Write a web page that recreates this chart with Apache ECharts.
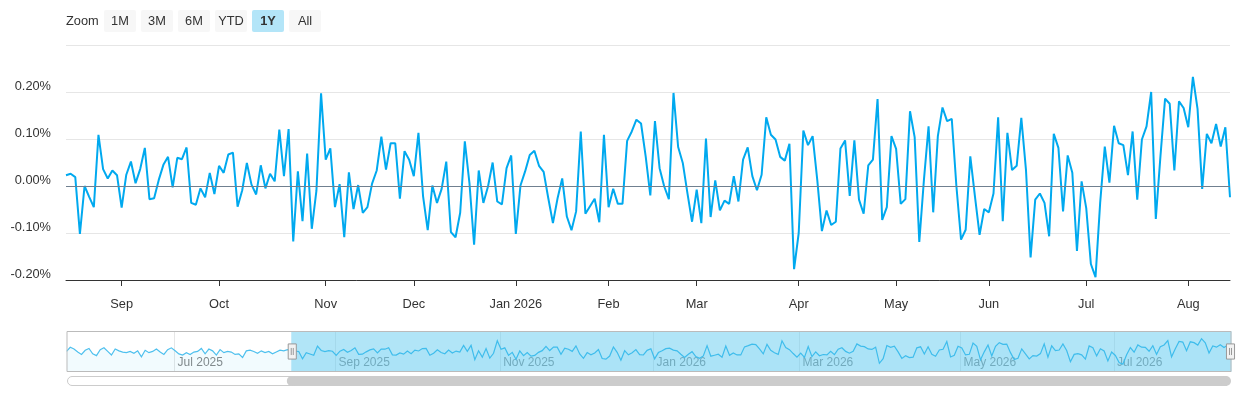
<!DOCTYPE html>
<html lang="en">
<head>
    <meta charset="UTF-8">
    <title>Daily returns</title>
</head>
<body style="margin: 0; background: #fff">
    <div id="container" style="width:1240px;height:400px"></div>
    <script src="https://cdn.jsdelivr.net/npm/echarts@6/dist/echarts.min.js"></script>
    <script type="text/javascript">
        // trading calendar: weekdays from firstDay, minus exchange holidays
        var firstDay = '2025-05-19';
        var holidays = ['2025-05-26', '2025-06-19', '2025-07-04', '2025-09-01', '2025-11-27', '2025-12-25',
            '2026-01-01', '2026-01-19', '2026-02-16', '2026-04-03', '2026-05-25', '2026-06-19', '2026-07-03'];
        var monthNames = ['Jan', 'Feb', 'Mar', 'Apr', 'May', 'Jun', 'Jul', 'Aug', 'Sep', 'Oct', 'Nov', 'Dec'];
        var zoomButtons = ['1M', '3M', '6M', 'YTD', '1Y', 'All'];
        var selectedButton = '1Y';

        // daily change, %  (19 May 2025 - 13 Aug 2025, only seen in the navigator)
        var earlyReturns = [0.02, 0.09, 0.06, 0.01, -0.03, 0.04, 0.07, -0.02, -0.05, 0.05,
            0.08, 0.02, -0.04, 0.06, 0.03, 0.01, 0.00, 0.02, -0.01, 0.03,
            -0.07, 0.04, 0.00, 0.02, 0.06, 0.01, -0.03, 0.05, 0.08, 0.03,
            -0.02, -0.04, 0.00, -0.03, 0.01, 0.02, 0.07, -0.02, 0.06, 0.03,
            -0.04, 0.05, 0.00, 0.02, 0.01, -0.03, -0.02, -0.08, 0.03, 0.04,
            0.02, -0.01, 0.03, 0.00, 0.02, -0.02, 0.01, 0.04, 0.03, 0.05];
        // 14 Aug 2025 - 31 Dec 2025
        var returns2025 = [0.023, 0.026, 0.019, -0.102, 0.000, -0.023, -0.045, 0.109, 0.036, 0.016,
            0.033, 0.023, -0.046, 0.024, 0.052, 0.006, 0.036, 0.081, -0.028, -0.026,
            0.013, 0.045, 0.062, -0.003, 0.060, 0.057, 0.082, -0.036, -0.040, -0.005,
            -0.024, 0.028, -0.017, 0.043, 0.028, 0.067, 0.071, -0.044, -0.009, 0.049,
            0.003, -0.018, 0.044, -0.005, 0.026, 0.010, 0.120, 0.021, 0.121, -0.118,
            0.031, -0.075, 0.069, -0.091, -0.010, 0.197, 0.056, 0.080, -0.045, 0.004,
            -0.109, 0.029, -0.049, 0.002, -0.057, -0.045, 0.005, 0.033, 0.105, 0.035,
            0.091, 0.091, -0.027, 0.074, 0.056, 0.021, 0.113, -0.022, -0.094, 0.001,
            -0.036, -0.006, 0.052, -0.098, -0.109, -0.057, 0.095, 0.006, -0.125, 0.033,
            -0.036, -0.001, 0.050, -0.033, -0.039, 0.038, 0.065];
        // 2 Jan 2026 - 14 Aug 2026
        var returns2026 = [-0.102, 0.001, 0.031, 0.066, 0.075, 0.043, 0.030, -0.026, -0.079, -0.026,
            0.016, -0.065, -0.094, -0.054, 0.116, -0.059, -0.043, -0.027, -0.077, 0.109,
            -0.045, -0.006, -0.038, -0.038, 0.096, 0.116, 0.141, 0.133, 0.063, -0.020,
            0.138, 0.038, -0.001, -0.028, 0.198, 0.083, 0.049, -0.015, -0.076, -0.008,
            -0.079, 0.101, -0.066, 0.012, -0.052, -0.031, -0.038, 0.021, -0.033, 0.056,
            0.082, 0.021, -0.009, 0.024, 0.146, 0.109, 0.099, 0.062, 0.054, 0.090,
            -0.177, -0.100, 0.118, 0.087, 0.106, 0.013, -0.096, -0.052, -0.083, -0.076,
            0.080, 0.097, -0.021, 0.097, -0.029, -0.059, 0.044, 0.056, 0.185, -0.072,
            -0.045, 0.106, 0.079, -0.038, -0.028, 0.159, 0.104, -0.119, 0.013, 0.127,
            -0.056, 0.106, 0.167, 0.138, 0.143, 0.000, -0.114, -0.093, 0.063, -0.022,
            -0.104, -0.049, -0.056, -0.016, 0.146, -0.075, 0.113, 0.034, 0.043, 0.145,
            0.035, -0.152, -0.029, -0.016, -0.036, -0.107, 0.111, 0.081, -0.054, 0.065,
            0.028, -0.138, 0.010, -0.047, -0.166, -0.194, -0.036, 0.084, 0.007, 0.128,
            0.091, 0.087, 0.023, 0.116, -0.029, 0.099, 0.127, 0.200, -0.070, 0.063,
            0.186, 0.175, 0.033, 0.180, 0.166, 0.125, 0.232, 0.164, -0.006, 0.111,
            0.091, 0.132, 0.084, 0.125, -0.024];

        var values = earlyReturns.concat(returns2025, returns2026);

        function tradingDays(start, count) {
            var out = [];
            var d = new Date(start + 'T00:00:00Z');
            while (out.length < count) {
                var s = d.toISOString().slice(0, 10);
                var wd = d.getUTCDay();
                if (wd !== 0 && wd !== 6 && holidays.indexOf(s) < 0) out.push(s);
                d.setUTCDate(d.getUTCDate() + 1);
            }
            return out;
        }
        var dates = tradingDays(firstDay, values.length);

        function monthStart(i) {
            return i > 0 && dates[i].slice(5, 7) !== dates[i - 1].slice(5, 7);
        }
        function oddMonthStart(i) {
            return monthStart(i) && parseInt(dates[i].slice(5, 7), 10) % 2 === 1;
        }
        var font = 'Liberation Sans, Arial, Helvetica, sans-serif';

        // range selector buttons (decoration only)
        var graphics = [{
            type: 'text', x: 66, y: 21,
            style: { text: 'Zoom', fill: '#333', verticalAlign: 'middle', font: '12.8px ' + font }
        }];
        zoomButtons.forEach(function (b, i) {
            var on = b === selectedButton;
            graphics.push({
                type: 'group', x: 104 + i * 37, y: 10,
                children: [{
                    type: 'rect', shape: { x: 0, y: 0, width: 32, height: 22, r: 2 },
                    style: { fill: on ? '#b3e5f8' : '#f7f7f7' }
                }, {
                    type: 'text', x: 16, y: 11,
                    style: {
                        text: b, fill: '#333', align: 'center', verticalAlign: 'middle',
                        font: (on ? 'bold ' : '') + '12.8px ' + font
                    }
                }]
            });
        });

        var dom = document.getElementById('container');
        var myChart = echarts.init(dom);
        var option = {
            animation: false,
            textStyle: { fontFamily: font },
            graphic: graphics,
            tooltip: { trigger: 'axis' },
            grid: [
                { left: 66, right: 10, top: 45, height: 235 },
                { left: 66, right: 10, top: 331, height: 41 }
            ],
            xAxis: [{
                type: 'category',
                data: dates,
                boundaryGap: false,
                axisLine: { onZero: false, lineStyle: { color: '#333' } },
                axisTick: { interval: function (i) { return monthStart(i); }, length: 6, lineStyle: { color: '#333' } },
                axisLabel: {
                    interval: function (i) { return monthStart(i); },
                    color: '#333', fontSize: 12.8, margin: 18,
                    formatter: function (v) {
                        var m = parseInt(v.slice(5, 7), 10);
                        return m === 1 ? 'Jan ' + v.slice(0, 4) : monthNames[m - 1];
                    }
                },
                splitLine: { show: false }
            }, {
                // navigator axis, full range
                type: 'category',
                gridIndex: 1,
                data: dates,
                boundaryGap: false,
                axisLine: { show: false },
                axisTick: { show: false },
                axisLabel: {
                    inside: true, margin: 3, align: 'left', padding: [0, 0, 0, 3],
                    color: '#888', fontSize: 12,
                    interval: function (i) { return oddMonthStart(i); },
                    formatter: function (v) {
                        return monthNames[parseInt(v.slice(5, 7), 10) - 1] + ' ' + v.slice(0, 4);
                    }
                },
                splitLine: {
                    show: true,
                    interval: function (i) { return oddMonthStart(i); },
                    lineStyle: { color: '#e6e6e6' }
                }
            }],
            yAxis: [{
                type: 'value',
                min: -0.2, max: 0.3, interval: 0.1,
                axisLine: { show: false },
                axisTick: { show: false },
                splitLine: { lineStyle: { color: '#e6e6e6' } },
                axisLabel: {
                    showMaxLabel: false, color: '#333', fontSize: 12.8, margin: 15,
                    verticalAlign: 'bottom', lineHeight: 11,
                    formatter: function (v) { return v.toFixed(2) + '%'; }
                }
            }, {
                type: 'value', gridIndex: 1, show: false
            }],
            dataZoom: [{
                type: 'slider',
                xAxisIndex: 0,
                left: 64, right: 11, top: 331, height: 41,
                startValue: earlyReturns.length,
                endValue: values.length - 1,
                showDetail: false,
                brushSelect: false,
                moveHandleSize: 0,
                borderColor: '#bbb',
                borderRadius: 0,
                backgroundColor: 'rgba(0,0,0,0)',
                fillerColor: 'rgba(100,203,240,0.5)',
                handleIcon: 'path://M0,0H8V15H0Z M3,4V11 M5,4V11',
                handleSize: '37%',
                handleStyle: { color: '#f2f2f2', borderColor: '#999', borderWidth: 1 },
                emphasis: { handleStyle: { color: '#f2f2f2', borderColor: '#777' } },
                dataBackground: {
                    lineStyle: { color: '#4ec0ee', width: 1.2, opacity: 1 },
                    areaStyle: { color: '#00a9ef', opacity: 0.05 }
                },
                selectedDataBackground: {
                    lineStyle: { color: '#1aaee9', width: 1.2, opacity: 1 },
                    areaStyle: { color: '#00a9ef', opacity: 0.05 }
                }
            }, {
                // scrollbar
                type: 'slider',
                xAxisIndex: 0,
                left: 66, right: 14, top: 376, height: 10,
                startValue: earlyReturns.length,
                endValue: values.length - 1,
                showDataShadow: false,
                showDetail: false,
                brushSelect: false,
                moveHandleSize: 0,
                borderColor: '#ccc',
                borderRadius: 5,
                backgroundColor: '#fff',
                fillerColor: '#ccc',
                handleIcon: 'circle',
                handleSize: '100%',
                handleStyle: { color: '#ccc', borderWidth: 0 },
                emphasis: { handleStyle: { color: '#bbb', borderWidth: 0 } }
            }],
            series: [{
                name: 'Daily change',
                type: 'line',
                data: values,
                showSymbol: false,
                lineStyle: { color: '#00a9ef', width: 2 },
                itemStyle: { color: '#00a9ef' },
                tooltip: { valueFormatter: function (v) { return v.toFixed(3) + '%'; } },
                markLine: {
                    silent: true,
                    symbol: 'none',
                    label: { show: false },
                    lineStyle: { color: '#708090', width: 1, type: 'solid' },
                    data: [{ yAxis: 0 }]
                }
            }]
        };
        myChart.setOption(option);
    </script>
</body>
</html>
